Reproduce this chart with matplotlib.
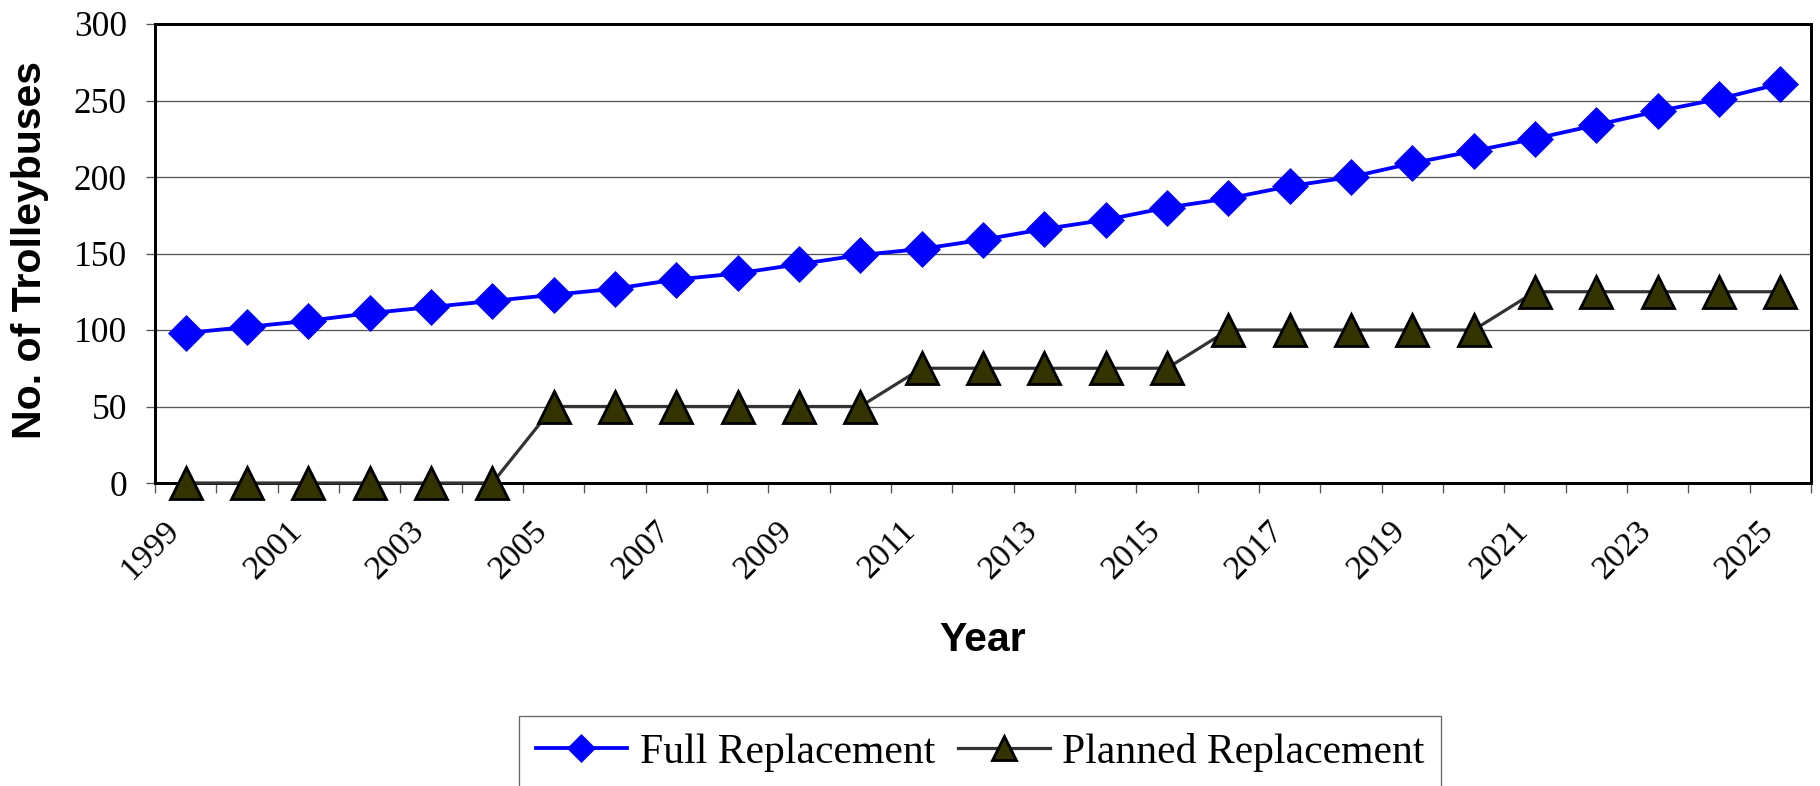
import matplotlib
matplotlib.use("Agg")
import matplotlib.pyplot as plt
import matplotlib.transforms as mtransforms

# Fleet size projections, one value per year
years = [1999, 2000, 2001, 2002, 2003, 2004, 2005, 2006, 2007, 2008, 2009,
         2010, 2011, 2012, 2013, 2014, 2015, 2016, 2017, 2018, 2019, 2020,
         2021, 2022, 2023, 2024, 2025]
full_replacement = [98, 102, 106, 111, 115, 119, 123, 127, 133, 137, 143,
                    149, 153, 159, 166, 172, 180, 186, 194, 200, 209, 217,
                    225, 234, 243, 251, 261]
planned_replacement = [0, 0, 0, 0, 0, 0, 50, 50, 50, 50, 50,
                       50, 75, 75, 75, 75, 75, 100, 100, 100, 100, 100,
                       125, 125, 125, 125, 125]
y_ticks = [0, 50, 100, 150, 200, 250, 300]

SERIF = "Liberation Serif"
SANS = "Liberation Sans"
W, H, DPI = 1820, 786, 100
PX = 72.0 / DPI  # points per pixel

fig = plt.figure(figsize=(W / DPI, H / DPI), dpi=DPI)
ax = fig.add_axes([155 / W, 1 - 483 / H, (1811 - 155) / W, (483 - 24) / H])

x = list(range(len(years)))

ax.plot(x, full_replacement, color="#0000FF", lw=3.8 * PX, marker="D",
        ms=18, mfc="#0000FF", mec="#0000FF", mew=0.5,
        label="Full Replacement", clip_on=False, zorder=4)
ax.plot(x, planned_replacement, color="#333333", lw=3.2 * PX, marker="^",
        ms=22.5, mfc="#333300", mec="#000000", mew=2.8 * PX,
        label="Planned Replacement", clip_on=False, zorder=5)

# Axes limits: categories sit between tick marks
ax.set_xlim(-0.5, len(years) - 0.5)
ax.set_ylim(0, 300)

# Y axis
ax.set_yticks(y_ticks)
ax.set_yticklabels([str(v) for v in y_ticks], fontfamily=SERIF, fontsize=25.5)
ax.tick_params(axis="y", direction="out", length=9 * PX, width=1.3 * PX,
               color="#555555", pad=19 * PX)
ax.yaxis.grid(True, color="#555555", lw=1.3 * PX)
ax.set_axisbelow(True)

# X axis: tick marks at category boundaries, labels on every other year
ax.set_xticks([i - 0.5 for i in range(len(years) + 1)], minor=True)
ax.set_xticks(x[::2])
ax.set_xticklabels([str(y) for y in years[::2]], fontfamily=SERIF,
                   fontsize=24.5, rotation=45, ha="right", va="top",
                   rotation_mode="anchor")
ax.tick_params(axis="x", which="major", length=0, pad=32 * PX)
ax.tick_params(axis="x", which="minor", direction="out", length=10 * PX,
               width=1.3 * PX, color="#555555")
shift = mtransforms.ScaledTranslation(-22 / DPI, 0, fig.dpi_scale_trans)
for lbl in ax.get_xticklabels():
    lbl.set_transform(lbl.get_transform() + shift)

for side in ["left", "right", "top", "bottom"]:
    ax.spines[side].set_linewidth(3 * PX)
    ax.spines[side].set_color("#000000")

# Axis titles
fig.text(30 / W, 1 - 250 / H, "No. of Trolleybuses", rotation=90,
         ha="center", va="center", fontfamily=SANS, fontweight="bold",
         fontsize=29.5)
fig.text(983 / W, 1 - 640 / H, "Year", ha="center", va="center",
         fontfamily=SANS, fontweight="bold", fontsize=29.5)

# Legend below the plot
leg = fig.legend(loc="upper center", bbox_to_anchor=(980 / W, 1 - 716 / H),
                 ncol=2, frameon=True, fancybox=False, shadow=False,
                 prop={"family": SERIF, "size": 30}, handlelength=2.2,
                 handletextpad=0.3, columnspacing=0.55, borderpad=0.4,
                 markerscale=0.78, borderaxespad=0)
leg.get_frame().set_edgecolor("#404040")
leg.get_frame().set_linewidth(1.3 * PX)

fig.savefig("out.png", dpi=DPI, facecolor="white")
